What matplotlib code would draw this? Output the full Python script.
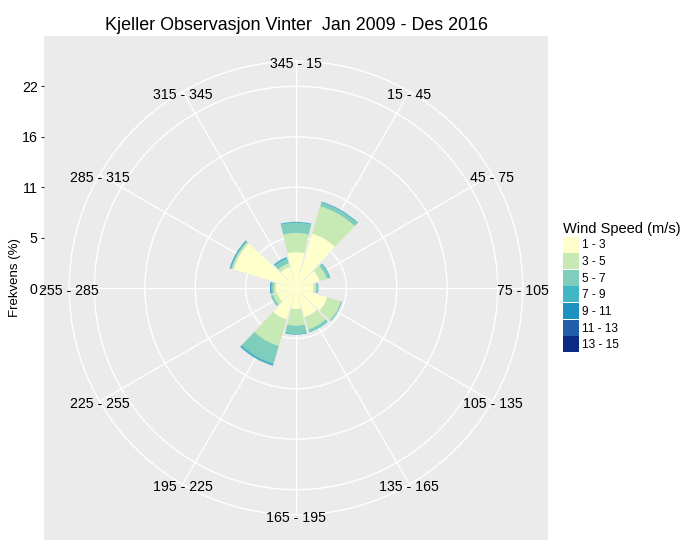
import numpy as np
import matplotlib
matplotlib.use("Agg")
import matplotlib.pyplot as plt
import matplotlib.transforms as mtransforms
from matplotlib.patches import Patch

plt.rcParams['font.family'] = ['Liberation Sans', 'DejaVu Sans']

# Vindretninger (sektorer på 30 grader, 0 = nord, med klokka)
direction_labels = ["345 - 15", "15 - 45", "45 - 75", "75 - 105", "105 - 135", "135 - 165",
                    "165 - 195", "195 - 225", "225 - 255", "255 - 285", "285 - 315", "315 - 345"]
direction_angles = [0, 30, 60, 90, 120, 150, 180, 210, 240, 270, 300, 330]

# Vindhastighetsklasser og farger (YlGnBu)
speed_labels = ["1 - 3", "3 - 5", "5 - 7", "7 - 9", "9 - 11", "11 - 13", "13 - 15"]
speed_colors = ["#FFFFCC", "#C7E9B4", "#7FCDBB", "#41B6C4", "#1D91C0", "#225EA8", "#0C2C84"]

# Frekvens (%) per retning for hver hastighetsklasse
freq_1_3 = [3.9, 6.2, 2.7, 1.9, 3.55, 3.3, 2.3, 3.6, 2.1, 2.2, 7.1, 2.4]
freq_3_5 = [2.1, 3.1, 0.8, 0.3, 1.55, 1.4, 1.8, 3.0, 0.5, 0.25, 0.2, 0.4]
freq_5_7 = [1.1, 0.4, 0.3, 0.2, 0.12, 0.3, 0.9, 2.0, 0.2, 0.2, 0.1, 0.5]
freq_7_9 = [0.1, 0.1, 0.1, 0.05, 0.03, 0.05, 0.1, 0.2, 0.05, 0.1, 0.1, 0.15]
freq_9_11 = [0.02, 0.02, 0.0, 0.0, 0.0, 0.0, 0.0, 0.05, 0.0, 0.08, 0.05, 0.05]
freq_11_13 = [0.0] * 12
freq_13_15 = [0.0] * 12

# Radielle brudd og etiketter
r_breaks = [0, 5.5, 11, 16.5, 22]
r_labels = ["0", "5", "11", "16", "22"]

title = "Kjeller Observasjon Vinter  Jan 2009 - Des 2016"

W, H = 700, 553
fig = plt.figure(figsize=(W / 100, H / 100), dpi=100)

# grå panel (ggplot-stil)
p_left, p_top, p_size = 44, 36, 504
cx, cy = p_left + p_size / 2, p_top + p_size / 2
r_max = r_breaks[-1]
unit = 0.4 * p_size / r_max  # piksler per prosent

bg = fig.add_axes([p_left / W, (H - p_top - p_size) / H, p_size / W, p_size / H])
bg.set_facecolor("#EBEBEB")
half = p_size / 2 / unit
bg.set_xlim(-half, half)
bg.set_ylim(-half, half)
bg.set_xticks([])
bg.set_yticks(r_breaks)
bg.set_yticklabels(r_labels)
bg.tick_params(axis="y", length=2.5, width=0.8, color="#333333", labelsize=10.2,
               labelcolor="black", pad=2)
for s in bg.spines.values():
    s.set_visible(False)

# polar akse oppå panelet
R = 0.45 * p_size
ax = fig.add_axes([(cx - R) / W, (H - cy - R) / H, 2 * R / W, 2 * R / H], projection="polar")
ax.patch.set_alpha(0)
ax.set_theta_zero_location("N")
ax.set_theta_direction(-1)
ax.set_ylim(0, R / unit)
ax.set_xticks(np.deg2rad(direction_angles))
ax.set_xticklabels([])
ax.set_yticks(r_breaks[1:])
ax.set_yticklabels([])
ax.tick_params(length=0)
ax.grid(True, color="white", linewidth=1.0)
ax.spines["polar"].set_color("white")
ax.spines["polar"].set_linewidth(1.0)
ax.set_axisbelow(True)

theta = np.deg2rad(direction_angles)
width = np.deg2rad(30) * 0.9
series = [freq_1_3, freq_3_5, freq_5_7, freq_7_9, freq_9_11, freq_11_13, freq_13_15]
bottom = np.zeros(len(theta))
for vals, col in zip(series, speed_colors):
    vals = np.array(vals)
    ax.bar(theta, vals, width=width, bottom=bottom, color=col, edgecolor="none", zorder=2)
    bottom += vals

# retningsetiketter sentrert på ytre sirkel (litt ned som i ggplot)
lab_tr = mtransforms.offset_copy(ax.transData, fig=fig, y=-3, units="dots")
for a, lab in zip(theta, direction_labels):
    ax.text(a, R / unit, lab, ha="center", va="center", fontsize=10.2, color="black",
            zorder=5, transform=lab_tr)

fig.text(cx / W, 1 - 29.5 / H, title, ha="center", va="baseline", fontsize=12.9)
fig.text(15 / W, 1 - 277.5 / H, "Frekvens (%)", rotation=90, ha="center", va="center",
         fontsize=9.5)

# legende: nøkler ca. 16x16 px
handles = [Patch(facecolor=c, edgecolor="none") for c in speed_colors]
fs = 8.6
leg = fig.legend(handles, speed_labels, title="Wind Speed (m/s)", loc="upper left",
                 bbox_to_anchor=(563 / W, 1 - 222 / H), frameon=False, fontsize=fs,
                 title_fontsize=10.5, handlelength=1.34, handleheight=1.685,
                 labelspacing=0.05, handletextpad=0.25, borderpad=0, borderaxespad=0,
                 alignment="left")

fig.savefig("out.png", dpi=100)
